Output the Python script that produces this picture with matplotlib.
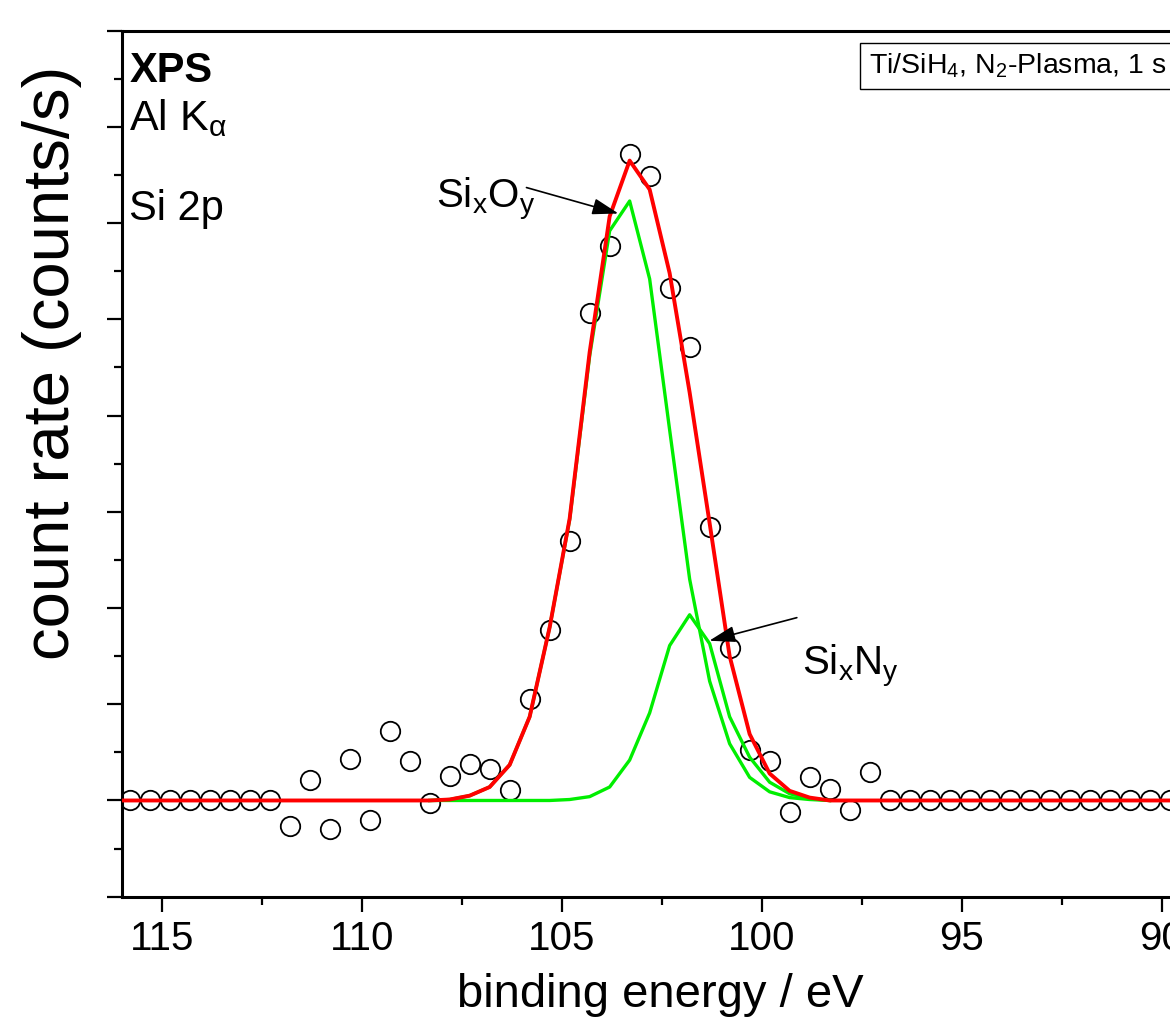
# XPS Si 2p spectrum with fitted components
import numpy as np
import matplotlib.pyplot as plt
from matplotlib.ticker import MultipleLocator, NullFormatter

plt.rcParams['font.family'] = ['Liberation Sans', 'DejaVu Sans']
plt.rcParams['mathtext.default'] = 'regular'

# measured points (binding energy in eV, count rate in arb. units)
energy = [115.8, 115.3, 114.8, 114.3, 113.8, 113.3, 112.8, 112.3, 111.8, 111.3,
          110.8, 110.3, 109.8, 109.3, 108.8, 108.3, 107.8, 107.3, 106.8, 106.3,
          105.8, 105.3, 104.8, 104.3, 103.8, 103.3, 102.8, 102.3, 101.8, 101.3,
          100.8, 100.3, 99.8, 99.3, 98.8, 98.3, 97.8, 97.3, 96.8, 96.3,
          95.8, 95.3, 94.8, 94.3, 93.8, 93.3, 92.8, 92.3, 91.8, 91.3,
          90.8, 90.3, 89.8]
counts = [0, 0, 0, 0, 0, 0, 0, 0, -0.27, 0.21,
          -0.30, 0.43, -0.20, 0.72, 0.41, -0.03, 0.25, 0.38, 0.33, 0.11,
          1.05, 1.77, 2.70, 5.07, 5.76, 6.72, 6.49, 5.33, 4.71, 2.84,
          1.58, 0.52, 0.41, -0.12, 0.24, 0.12, -0.10, 0.30, 0, 0,
          0, 0, 0, 0, 0, 0, 0, 0, 0, 0,
          0, 0, 0]

# fit envelope (red)
fit_energy = [116.3] + energy
fit_total = [0, 0, 0, 0, 0, 0, 0, 0, 0, 0, 0,
             0, 0, 0, 0, 0, 0, 0.01, 0.05, 0.14, 0.37,
             0.87, 1.80, 2.93, 4.66, 6.07, 6.65, 6.35, 5.48, 4.24, 2.88,
             1.50, 0.69, 0.28, 0.10, 0.03, 0, 0, 0, 0, 0,
             0, 0, 0, 0, 0, 0, 0, 0, 0, 0,
             0, 0, 0]

# fit components (green)
comp_energy = [108.3, 107.8, 107.3, 106.8, 106.3, 105.8, 105.3, 104.8, 104.3, 103.8,
               103.3, 102.8, 102.3, 101.8, 101.3, 100.8, 100.3, 99.8, 99.3, 98.8, 98.3]
sio = [0, 0.01, 0.05, 0.14, 0.37, 0.87, 1.80, 2.92, 4.62, 5.92,
       6.23, 5.42, 3.85, 2.30, 1.24, 0.59, 0.24, 0.09, 0.03, 0.01, 0]
sin = [0, 0, 0, 0, 0, 0, 0, 0.01, 0.04, 0.14,
       0.42, 0.91, 1.61, 1.93, 1.63, 0.87, 0.45, 0.19, 0.07, 0.02, 0]

fig = plt.figure(figsize=(11.7, 10.31), dpi=100)
ax = fig.add_axes([121.7 / 1170, 1 - 896.7 / 1031, (1198 - 121.7) / 1170, (896.7 - 30.7) / 1031])

ax.plot(energy, counts, 'o', ms=14, mfc='none', mec='black', mew=1.3, zorder=2)
ax.plot(comp_energy, sio, color='#00ee00', lw=2.4, zorder=3)
ax.plot(comp_energy, sin, color='#00ee00', lw=2.4, zorder=3)
ax.plot(fit_energy, fit_total, color='#ff0000', lw=2.8, zorder=4)

ax.set_xlim(116.0, 89.09)
ax.set_ylim(-1, 8)

ax.xaxis.set_major_locator(MultipleLocator(5))
ax.xaxis.set_minor_locator(MultipleLocator(2.5))
ax.yaxis.set_major_locator(MultipleLocator(1))
ax.yaxis.set_minor_locator(MultipleLocator(0.5))
ax.yaxis.set_major_formatter(NullFormatter())

for s in ['top', 'left', 'bottom']:
    ax.spines[s].set_linewidth(2.2)
ax.spines['right'].set_visible(False)
ax.tick_params(which='major', direction='out', length=11, width=1.6, labelsize=29, pad=6)
ax.tick_params(which='minor', direction='out', length=6, width=1.6)

ax.set_xlabel('binding energy / eV', fontsize=34)
ax.xaxis.set_label_coords(0.5, -0.088)
ax.xaxis.label.set_va('top')
ax.set_ylabel('count rate (counts/s)', fontsize=47)
ax.yaxis.set_label_coords(-0.037, 0.616)

# labels in the corner
ax.text(129.3 / 1170, 1 - 81.7 / 1031, 'XPS', transform=fig.transFigure,
        fontsize=30, fontweight='bold', va='baseline')
ax.text(129.3 / 1170, 1 - 130 / 1031, r'Al K$_{α}$', transform=fig.transFigure,
        fontsize=31, va='baseline')
ax.text(129.3 / 1170, 1 - 220 / 1031, 'Si 2p', transform=fig.transFigure,
        fontsize=30, va='baseline')

ax.text(869 / 1170, 1 - 74 / 1031, r'Ti/SiH$_4$, N$_2$-Plasma, 1 s', transform=fig.transFigure,
        fontsize=20.5, va='baseline',
        bbox=dict(boxstyle='square,pad=0.3', fc='white', ec='black', lw=1.0))

# component annotations
arrow = dict(arrowstyle='-|>,head_length=0.8,head_width=0.25', color='black', lw=1.2,
             mutation_scale=20, shrinkA=0, shrinkB=0)
ax.annotate('', xy=(103.58, 6.10), xytext=(105.88, 6.37), arrowprops=arrow, zorder=5)
ax.annotate('', xy=(101.31, 1.66), xytext=(99.12, 1.90), arrowprops=arrow, zorder=5)
ax.text(108.15, 6.15, r'Si$_x$O$_y$', fontsize=29, va='baseline', ha='left')
ax.text(99.0, 1.30, r'Si$_x$N$_y$', fontsize=29, va='baseline', ha='left')

fig.savefig('out.png', dpi=100)
